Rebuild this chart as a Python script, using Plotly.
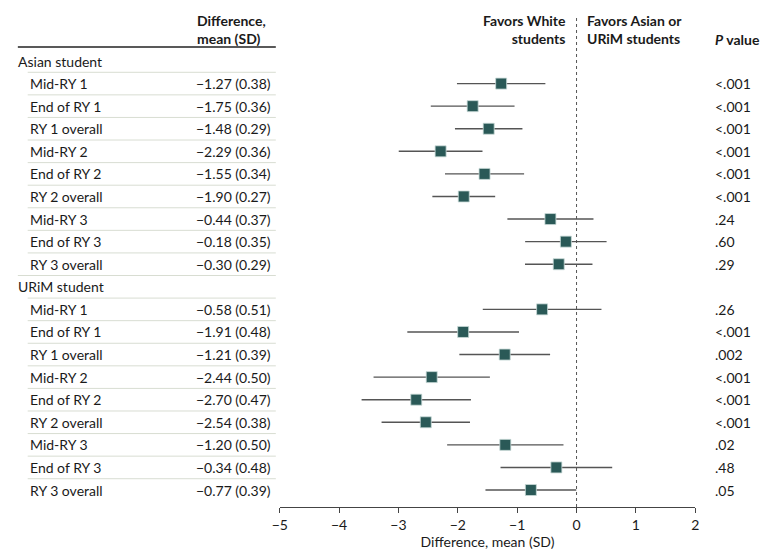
import plotly.graph_objects as go

groups = ["Asian student", "URiM student"]
periods = ["Mid-RY 1", "End of RY 1", "RY 1 overall",
           "Mid-RY 2", "End of RY 2", "RY 2 overall",
           "Mid-RY 3", "End of RY 3", "RY 3 overall"]
asian_mean = [-1.27, -1.75, -1.48, -2.29, -1.55, -1.90, -0.44, -0.18, -0.30]
asian_sd = [0.38, 0.36, 0.29, 0.36, 0.34, 0.27, 0.37, 0.35, 0.29]
asian_p = ["<.001", "<.001", "<.001", "<.001", "<.001", "<.001", ".24", ".60", ".29"]
urim_mean = [-0.58, -1.91, -1.21, -2.44, -2.70, -2.54, -1.20, -0.34, -0.77]
urim_sd = [0.51, 0.48, 0.39, 0.50, 0.47, 0.38, 0.50, 0.48, 0.39]
urim_p = [".26", "<.001", ".002", "<.001", "<.001", "<.001", ".02", ".48", ".05"]
x_ticks = [-5, -4, -3, -2, -1, 0, 1, 2]

FONT = "Lato"
TXT = "#1a1a1a"
MARK = "#2a5957"

W, H = 780, 560
row_h = 22.58
top_row_px = 61
axis_px = 507


def px(x_page):
    return x_page / W


def py(y_page):
    return 1 - y_page / axis_px


rows = []
for g, means, sds, ps in [(groups[0], asian_mean, asian_sd, asian_p),
                          (groups[1], urim_mean, urim_sd, urim_p)]:
    rows.append(("group", g, None, None, None))
    for per, m, s, p in zip(periods, means, sds, ps):
        rows.append(("item", per, m, s, p))

y_top = -top_row_px / row_h
y_bot = (axis_px - top_row_px) / row_h

fig = go.Figure()

ys, xs, errs = [], [], []
for i, r in enumerate(rows):
    if r[0] == "item":
        ys.append(i)
        xs.append(r[2])
        errs.append(round(1.96 * r[3], 4))

fig.add_trace(go.Scatter(
    x=xs, y=ys, mode="markers",
    marker=dict(symbol="square", size=11, color=MARK,
                line=dict(width=0.8, color="#c9dad8")),
    error_x=dict(type="data", array=errs, visible=True, color="#555555",
                 thickness=1.4, width=0),
    hoverinfo="skip", showlegend=False, cliponaxis=False))

shapes = []
annotations = []

shapes.append(dict(type="line", xref="x", yref="paper", x0=0, x1=0,
                   y0=0, y1=py(15),
                   line=dict(color="#555555", width=1, dash="dot")))

body_font = dict(family=FONT, size=14, color=TXT)
for i, r in enumerate(rows):
    if r[0] == "group":
        annotations.append(dict(xref="paper", yref="y", x=px(8), y=i,
                                text=r[1], showarrow=False, xanchor="left",
                                yanchor="middle", font=body_font))
        if i > 0:
            shapes.append(dict(type="line", xref="paper", yref="y",
                               x0=px(10), x1=px(272), y0=i - 0.5, y1=i - 0.5,
                               line=dict(color="#d8ddd2", width=1)))
    else:
        annotations.append(dict(xref="paper", yref="y", x=px(20), y=i,
                                text=r[1], showarrow=False, xanchor="left",
                                yanchor="middle", font=body_font))
        annotations.append(dict(xref="paper", yref="y", x=px(269), y=i,
                                text="\u2212%.2f (%.2f)" % (abs(r[2]), r[3]),
                                showarrow=False, xanchor="right",
                                yanchor="middle", font=body_font))
        annotations.append(dict(xref="paper", yref="y", x=px(716), y=i,
                                text=r[4], showarrow=False, xanchor="left",
                                yanchor="middle", font=body_font))
        shapes.append(dict(type="line", xref="paper", yref="y",
                           x0=px(20), x1=px(272), y0=i - 0.5, y1=i - 0.5,
                           line=dict(color="#d8ddd2", width=1)))

shapes.append(dict(type="line", xref="paper", yref="paper",
                   x0=px(10), x1=px(272), y0=py(47), y1=py(47),
                   line=dict(color="#222222", width=1.5)))

hdr_font = dict(family=FONT, size=14, color=TXT, weight="bold")
annotations += [
    dict(xref="paper", yref="paper", x=px(190), y=py(10),
         text="Difference,<br>mean (SD)", showarrow=False, xanchor="left",
         yanchor="top", align="left", font=hdr_font),
    dict(xref="paper", yref="paper", x=px(569), y=py(10),
         text="Favors White<br>students", showarrow=False, xanchor="right",
         yanchor="top", align="right", font=hdr_font),
    dict(xref="paper", yref="paper", x=px(586), y=py(10),
         text="Favors Asian or<br>URiM students", showarrow=False, xanchor="left",
         yanchor="top", align="left", font=hdr_font),
    dict(xref="paper", yref="paper", x=px(716), y=py(29),
         text="<i>P</i> value", showarrow=False, xanchor="left",
         yanchor="top", align="left", font=hdr_font),
]

fig.update_layout(
    width=W, height=H,
    margin=dict(l=0, r=0, t=0, b=H - axis_px),
    paper_bgcolor="white", plot_bgcolor="white",
    shapes=shapes, annotations=annotations,
    xaxis=dict(domain=[px(276), px(698)], range=[-5, 2],
               tickvals=x_ticks,
               ticktext=[("\u2212%d" % -v) if v < 0 else str(v) for v in x_ticks],
               showgrid=False, zeroline=False, showline=True,
               linecolor="#444444", linewidth=1.2,
               ticks="outside", ticklen=5, tickcolor="#444444", tickwidth=1.2,
               tickfont=body_font,
               title=dict(text="Difference, mean (SD)", standoff=3,
                          font=body_font)),
    yaxis=dict(range=[y_bot, y_top], visible=False, showgrid=False,
               zeroline=False, fixedrange=True),
)

fig.write_html("out.html", config={"displayModeBar": False},
               post_script="document.body.style.margin='0';document.body.style.overflow='hidden';")
